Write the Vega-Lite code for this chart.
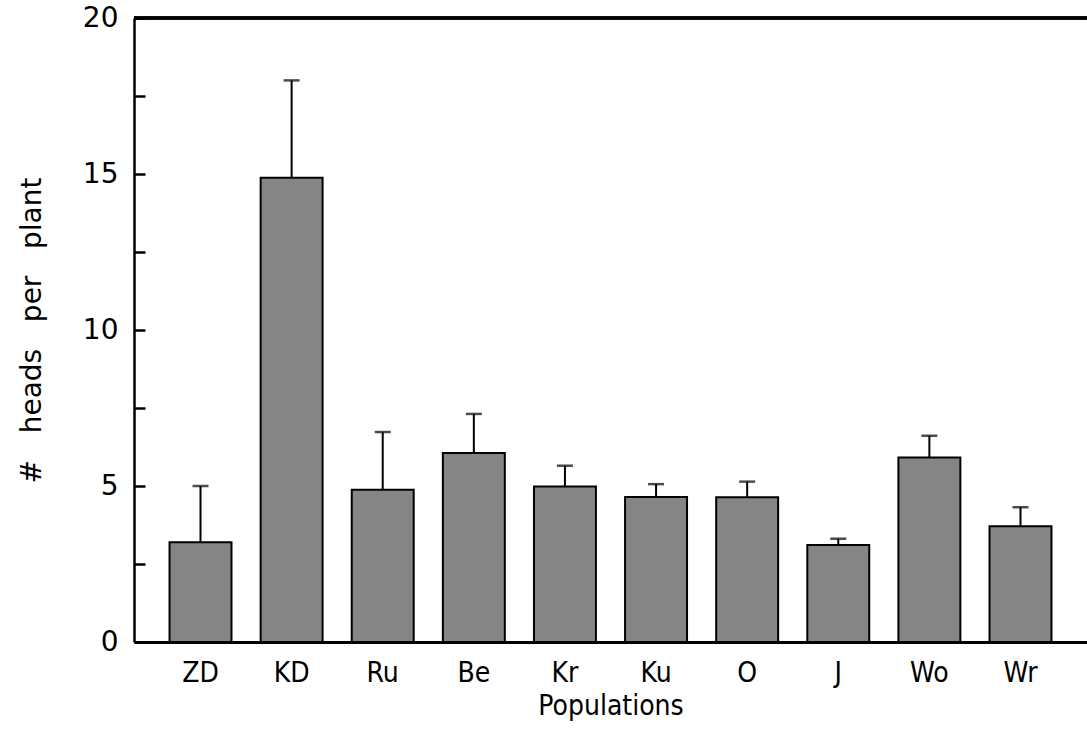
{
  "$schema": "https://vega.github.io/schema/vega-lite/v6.json",
  "width": 953,
  "height": 624,
  "autosize": {"type": "none"},
  "padding": {"left": 134, "top": 18, "right": 0, "bottom": 100},
  "background": "white",
  "config": {"view": {"stroke": null}},
  "data": {
    "values": [
      {"population": "ZD", "mean": 3.2, "upper": 5.0},
      {"population": "KD", "mean": 14.88, "upper": 18.0},
      {"population": "Ru", "mean": 4.88, "upper": 6.73},
      {"population": "Be", "mean": 6.06, "upper": 7.31},
      {"population": "Kr", "mean": 4.98, "upper": 5.65},
      {"population": "Ku", "mean": 4.65, "upper": 5.06},
      {"population": "O", "mean": 4.64, "upper": 5.14},
      {"population": "J", "mean": 3.11, "upper": 3.31},
      {"population": "Wo", "mean": 5.91, "upper": 6.61},
      {"population": "Wr", "mean": 3.71, "upper": 4.32}
    ]
  },
  "layer": [
    {
      "encoding": {
        "x": {
          "field": "population",
          "type": "nominal",
          "sort": null,
          "scale": {"paddingInner": 0.32, "paddingOuter": 0.39},
          "axis": {
            "title": "Populations",
            "labelAngle": 0,
            "ticks": false,
            "domainColor": "black",
            "domainWidth": 3,
            "labelFont": "DejaVu Sans Condensed",
            "labelFontSize": 28,
            "labelColor": "black",
            "labelPadding": 17,
            "titleFont": "DejaVu Sans Condensed",
            "titleFontSize": 28,
            "titleFontWeight": "normal",
            "titleColor": "black",
            "titlePadding": 5
          }
        }
      },
      "layer": [
        {
          "mark": {"type": "rule", "color": "black", "strokeWidth": 2},
          "encoding": {
            "y": {"field": "mean", "type": "quantitative"},
            "y2": {"field": "upper"}
          }
        },
        {
          "mark": {"type": "tick", "color": "black", "thickness": 2.5, "size": 16, "orient": "horizontal"},
          "encoding": {
            "y": {"field": "upper", "type": "quantitative"}
          }
        },
        {
          "mark": {"type": "bar", "fill": "#858585", "stroke": "black", "strokeWidth": 2},
          "encoding": {
            "y": {
              "field": "mean",
              "type": "quantitative",
              "scale": {"domain": [0, 20], "nice": false, "zero": true},
              "axis": {
                "title": "#\u00a0\u00a0 heads\u00a0\u00a0 per\u00a0\u00a0 plant",
                "values": [0, 2.5, 5, 7.5, 10, 12.5, 15, 17.5, 20],
                "labelExpr": "datum.value % 5 === 0 ? datum.label : ''",
                "grid": false,
                "domainColor": "black",
                "domainWidth": 2.5,
                "tickColor": "black",
                "tickWidth": 2.5,
                "tickSize": -11,
                "labelFont": "DejaVu Sans",
                "labelFontSize": 28,
                "labelColor": "black",
                "labelPadding": 27,
                "titleFont": "DejaVu Sans",
                "titleFontSize": 28,
                "titleFontWeight": "normal",
                "titleColor": "black",
                "titlePadding": 36
              }
            }
          }
        }
      ]
    },
    {
      "mark": {"type": "rule", "color": "black", "strokeWidth": 2.5},
      "encoding": {"y": {"datum": 20}}
    }
  ]
}
